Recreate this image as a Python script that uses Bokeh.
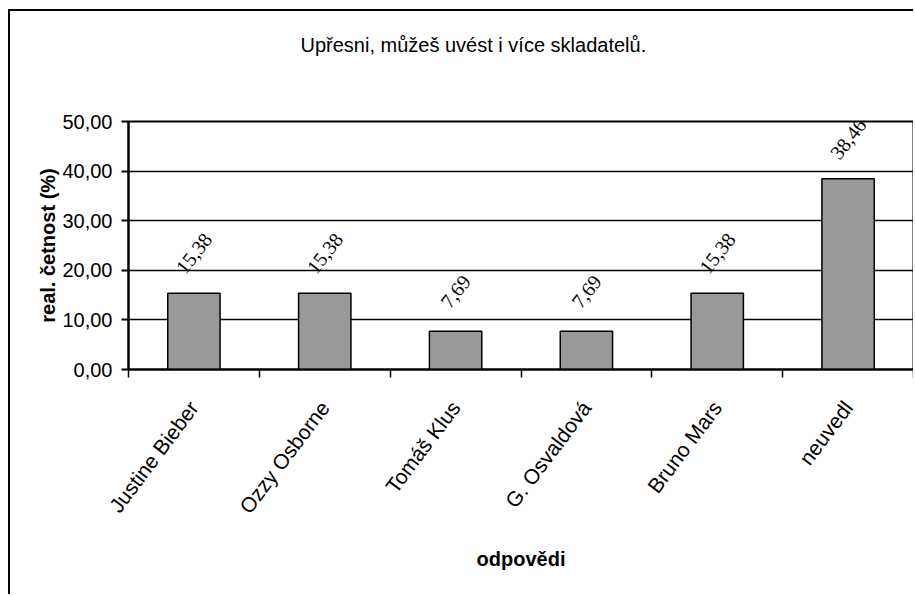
import math
from bokeh.plotting import figure
from bokeh.models import (ColumnDataSource, FixedTicker, CustomJSTickFormatter,
                          Range1d, Title, LabelSet)
from bokeh.embed import file_html
from bokeh.resources import INLINE

categories = ["Justine Bieber", "Ozzy Osborne", "Tomáš Klus", "G. Osvaldová", "Bruno Mars", "neuvedl"]
values = [15.38, 15.38, 7.69, 7.69, 15.38, 38.46]
y_ticks = [0, 10, 20, 30, 40, 50]

title_text = "Upřesni, můžeš uvést i více skladatelů."
x_title = "odpovědi"
y_title = "real. četnost (%)"

FONT = "Liberation Sans"
FS = "20px"

W, H = 905, 585

xpos = [i + 0.5 for i in range(len(categories))]
labels = [f"{v:.2f}".replace(".", ",") for v in values]
src = ColumnDataSource(dict(x=xpos, top=values, lab=labels))

p = figure(width=W, height=H, output_backend="svg", toolbar_location=None,
           x_range=Range1d(0, len(categories)), y_range=Range1d(0, 50),
           min_border_left=118, min_border_right=2, min_border_top=110,
           min_border_bottom=227, background_fill_color="white",
           border_fill_color="white")
# outer chart-area border: only its left and top edges fall inside the picture
p.styles = {"margin-left": "8px", "margin-top": "9px",
            "border-left": "2px solid black", "border-top": "2px solid black"}

p.vbar(x="x", top="top", width=0.4, bottom=0, source=src,
       fill_color="#999999", line_color="black", line_width=1.5)

p.add_layout(LabelSet(x="x", y="top", text="lab", source=src, angle=math.radians(52),
                      text_align="center", text_baseline="middle", y_offset=40,
                      text_font=FONT, text_font_size=FS, text_color="black"))

# title (outermost) with a blank spacer between it and the plot area
p.title.text = title_text
p.title.align = "left"
p.title.offset = 172
p.title.vertical_align = "top"
p.title.standoff = 44
p.title.text_font = FONT
p.title.text_font_size = FS
p.title.text_font_style = "normal"
p.title.text_color = "black"
p.add_layout(Title(text=" ", text_font=FONT, text_font_size=FS, standoff=18), "above")

# y axis
ya = p.yaxis[0]
ya.ticker = FixedTicker(ticks=y_ticks)
ya.formatter = CustomJSTickFormatter(code="return tick.toFixed(2).replace('.', ',');")
ya.major_tick_out = 7
ya.major_tick_in = 0
ya.minor_tick_out = 0
ya.minor_tick_in = 0
ya.axis_line_width = 2
ya.major_tick_line_width = 2
ya.major_label_text_font = FONT
ya.major_label_text_font_size = FS
ya.major_label_text_color = "black"
ya.major_label_standoff = 9
ya.axis_label = y_title
ya.axis_label_text_font = FONT
ya.axis_label_text_font_size = FS
ya.axis_label_text_font_style = "bold"
ya.axis_label_text_color = "black"
ya.axis_label_standoff = 0

# x axis
xa = p.xaxis[0]
xa.ticker = FixedTicker(ticks=xpos, minor_ticks=list(range(len(categories) + 1)))
xa.major_label_overrides = {x: c for x, c in zip(xpos, categories)}
xa.major_tick_out = 0
xa.major_tick_in = 0
xa.minor_tick_out = 8
xa.minor_tick_in = 0
xa.minor_tick_line_width = 1.5
xa.axis_line_width = 2
xa.major_label_orientation = math.radians(53)
xa.major_label_text_font = FONT
xa.major_label_text_font_size = "21px"
xa.major_label_text_color = "black"
xa.major_label_standoff = 26
xa.axis_label = x_title
xa.axis_label_text_font = FONT
xa.axis_label_text_font_size = FS
xa.axis_label_text_font_style = "bold"
xa.axis_label_text_color = "black"
xa.axis_label_standoff = 20

p.xgrid.grid_line_color = None
p.ygrid.ticker = FixedTicker(ticks=y_ticks)
p.ygrid.grid_line_color = "black"
p.ygrid.grid_line_width = 1.5
p.outline_line_color = "black"
p.outline_line_width = 2

open("out.html", "w").write(file_html(p, INLINE))
